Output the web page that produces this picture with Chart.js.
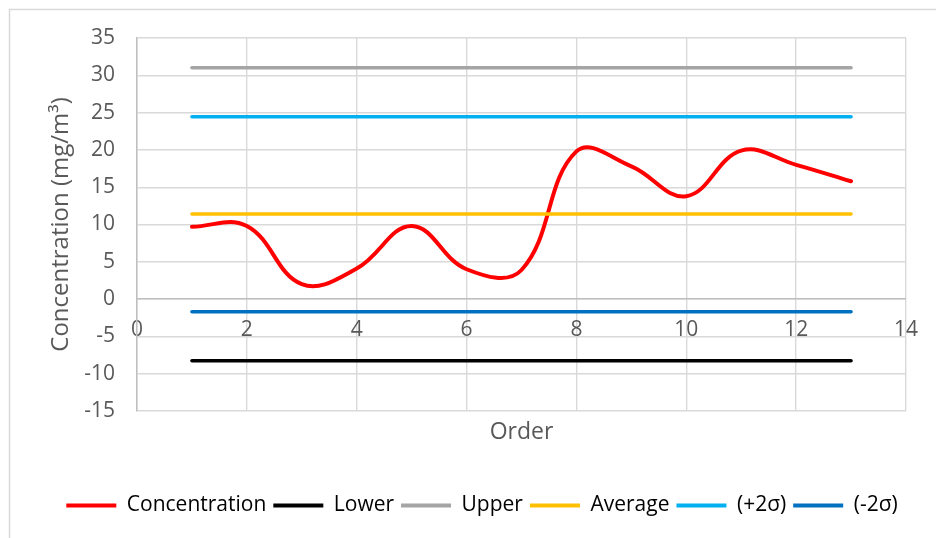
<!DOCTYPE html>
<html>
<head>
<meta charset="utf-8">
<script src="https://cdn.jsdelivr.net/npm/chart.js@4/dist/chart.umd.min.js"></script>
<style>
  html, body { margin: 0; padding: 0; background: #ffffff; }
  canvas { display: block; }
</style>
</head>
<body>
<canvas id="chart" width="936" height="538"></canvas>
<script>
// Sample order and measured concentration (mg/m³)
const orders = [1, 2, 3, 4, 5, 6, 7, 8, 9, 10, 11, 12, 13];
const concentration = [9.7, 9.8, 2.0, 4.1, 9.8, 4.0, 3.9, 19.8, 17.8, 13.8, 19.9, 18.0, 15.8];

// Control limits drawn as flat lines across the run
const limitLabels = ['Lower', 'Upper', 'Average', '(+2σ)', '(-2σ)'];
const limitValues = [-8.25, 31.0, 11.4, 24.45, -1.7];
const limitColors = ['#000000', '#a5a5a5', '#ffc000', '#00b0f0', '#0070c0'];

// Axis ranges and tick steps
const xRange = [0, 14];
const xStep = 2;
const yRange = [-15, 35];
const yStep = 5;

const textColor = '#595959';
const gridColor = '#d9d9d9';
const axisColor = '#bfbfbf';
const fontSize = 21;

Chart.defaults.font.family = "'Open Sans', 'DejaVu Sans', sans-serif";
Chart.defaults.font.size = fontSize;
Chart.defaults.color = textColor;

const datasets = [{
  label: 'Concentration',
  data: orders.map((o, i) => ({ x: o, y: concentration[i] })),
  borderColor: '#ff0000',
  backgroundColor: '#ff0000',
  borderWidth: 4,
  tension: 0.4,
  order: 6
}].concat(limitLabels.map((name, k) => ({
  label: name,
  data: orders.map(o => ({ x: o, y: limitValues[k] })),
  borderColor: limitColors[k],
  backgroundColor: limitColors[k],
  borderWidth: 3.5,
  tension: 0,
  order: 5 - k
})));

// White page with a thin frame around the chart; legend row centred on the frame
const framePlugin = {
  id: 'frame',
  afterLayout(chart) {
    const lg = chart.legend;
    if (lg) { lg.left += 29; lg.right += 29; }
  },
  beforeDraw(chart) {
    const c = chart.ctx;
    c.save();
    c.fillStyle = '#ffffff';
    c.fillRect(0, 0, chart.width, chart.height);
    c.strokeStyle = '#d9d9d9';
    c.lineWidth = 1.5;
    c.strokeRect(9.5, 9.5, chart.width + 20, chart.height + 20);
    c.restore();
  }
};

new Chart(document.getElementById('chart'), {
  type: 'line',
  data: { datasets },
  plugins: [framePlugin],
  options: {
    responsive: false,
    animation: false,
    devicePixelRatio: 1,
    layout: { padding: { left: 0, top: 38, right: 30, bottom: 12 } },
    elements: {
      point: { radius: 0, hoverRadius: 0 },
      line: { borderCapStyle: 'round', borderJoinStyle: 'round' }
    },
    plugins: {
      tooltip: { enabled: false },
      legend: {
        position: 'bottom',
        labels: {
          boxWidth: 50,
          boxHeight: 4,
          padding: 7,
          color: textColor,
          font: { size: fontSize },
          sort: (a, b) => a.datasetIndex - b.datasetIndex,
          generateLabels: chart => chart.data.datasets.map((ds, i) => ({
            text: ds.label,
            fillStyle: ds.borderColor,
            strokeStyle: ds.borderColor,
            lineWidth: 0,
            hidden: false,
            datasetIndex: i
          }))
        }
      }
    },
    scales: {
      x: {
        type: 'linear',
        position: 'bottom',
        min: xRange[0],
        max: xRange[1],
        ticks: { display: false, stepSize: xStep },
        grid: { color: gridColor, lineWidth: 1.4, drawTicks: false },
        border: { display: false },
        title: { display: true, text: 'Order', color: textColor, font: { size: 23 }, padding: { top: 0, bottom: 42 } },
        afterFit: s => { s.height = 77; }
      },
      xZero: {
        type: 'linear',
        position: { y: 0 },
        min: xRange[0],
        max: xRange[1],
        ticks: { stepSize: xStep, padding: 18, color: textColor },
        grid: { display: false, drawTicks: false },
        border: { display: true, color: axisColor, width: 1.5 }
      },
      y: {
        type: 'linear',
        position: 'left',
        min: yRange[0],
        max: yRange[1],
        ticks: { stepSize: yStep, padding: 22, color: textColor },
        grid: { color: gridColor, lineWidth: 1.4, drawTicks: false },
        border: { display: true, color: axisColor, width: 1.5 },
        title: { display: true, text: 'Concentration (mg/m³)', color: textColor, font: { size: 24 }, padding: { top: 47, bottom: 0 } },
        afterFit: s => { s.width = 137; }
      }
    }
  }
});
</script>
</body>
</html>
